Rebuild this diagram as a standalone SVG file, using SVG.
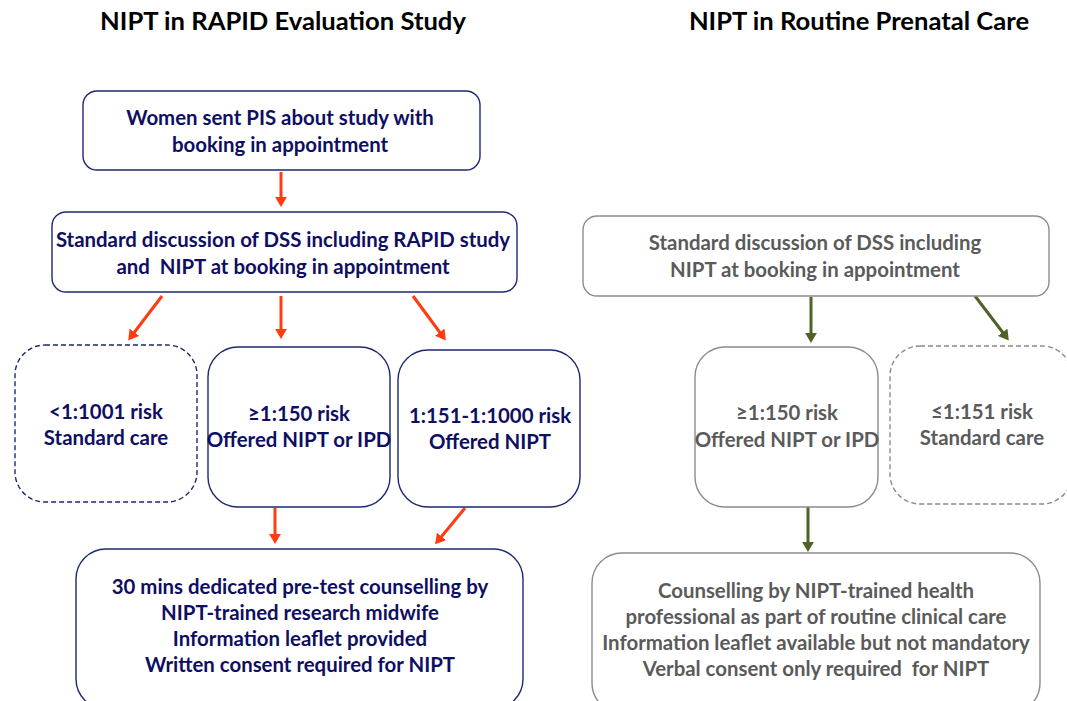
<svg xmlns="http://www.w3.org/2000/svg" width="1067" height="701" viewBox="0 0 1067 701">
<defs>
<style>
text{font-family:Lato,"Open Sans","Liberation Sans",sans-serif;font-weight:bold;text-anchor:middle;white-space:pre}
.title{font-size:25.6px;fill:#000}
.l{font-size:20.4px;fill:#0e0e62}
.r{font-size:20.4px;fill:#5a5a5a}
.bl{fill:#fff;stroke:#1d2870;stroke-width:1.4}
.bld{fill:#fff;stroke:#1d2870;stroke-width:1.4;stroke-dasharray:5 3}
.br{fill:#fff;stroke:#8c8c8c;stroke-width:1.4}
.brd{fill:#fff;stroke:#8c8c8c;stroke-width:1.4;stroke-dasharray:5 3}
.ao{stroke:#ff3b0f;stroke-width:3;fill:none;marker-end:url(#mo)}
.ag{stroke:#4f6228;stroke-width:3;fill:none;marker-end:url(#mg)}
</style>
<marker id="mo" markerWidth="4" markerHeight="4" refX="2.4" refY="2" orient="auto" markerUnits="strokeWidth"><path d="M0,0 L3.4,2 L0,4 Z" fill="#ff3b0f"/></marker>
<marker id="mg" markerWidth="4" markerHeight="4" refX="2.4" refY="2" orient="auto" markerUnits="strokeWidth"><path d="M0,0 L3.4,2 L0,4 Z" fill="#4f6228"/></marker>
</defs>
<rect width="1067" height="701" fill="#fff"/>
<g id="titles">
<text class="title" x="283" y="30">NIPT in RAPID Evaluation Study</text>
<text class="title" x="859" y="30">NIPT in Routine Prenatal Care</text>
</g>
<g id="connectors">
<line class="ao" x1="281" y1="172" x2="281" y2="204"/>
<line class="ao" x1="162" y1="296" x2="130" y2="338"/>
<line class="ao" x1="281" y1="296" x2="281" y2="336"/>
<line class="ao" x1="413" y1="296" x2="444" y2="338"/>
<line class="ao" x1="275" y1="508" x2="275" y2="541"/>
<line class="ao" x1="465" y1="508" x2="437" y2="542"/>
<line class="ag" x1="811" y1="297" x2="811" y2="340"/>
<line class="ag" x1="975" y1="296" x2="1007" y2="338"/>
<line class="ag" x1="808" y1="507" x2="808" y2="549"/>
</g>
<g id="n1"><rect class="bl" x="83" y="91" width="397" height="79" rx="14"/>
<text class="l" x="280" y="125">Women sent PIS about study with</text>
<text class="l" x="280" y="152">booking in appointment</text></g>
<g id="n2"><rect class="bl" x="52" y="212" width="465" height="80" rx="14"/>
<text class="l" x="283" y="247">Standard discussion of DSS including RAPID study</text>
<text class="l" x="283" y="274">and  NIPT at booking in appointment</text></g>
<g id="n3"><rect class="bld" x="15" y="345" width="182" height="157" rx="30"/>
<text class="l" x="106" y="419">&lt;1:1001 risk</text>
<text class="l" x="106" y="445">Standard care</text></g>
<g id="n4"><rect class="bl" x="208" y="347" width="182" height="160" rx="30"/>
<text class="l" x="299" y="421">≥1:150 risk</text>
<text class="l" x="299" y="447">Offered NIPT or IPD</text></g>
<g id="n5"><rect class="bl" x="398" y="350" width="182" height="157" rx="30"/>
<text class="l" x="490" y="423">1:151-1:1000 risk</text>
<text class="l" x="490" y="449">Offered NIPT</text></g>
<g id="n6"><rect class="bl" x="76" y="549" width="447" height="160" rx="30"/>
<text class="l" x="300" y="594">30 mins dedicated pre-test counselling by</text>
<text class="l" x="300" y="620">NIPT-trained research midwife</text>
<text class="l" x="300" y="646">Information leaflet provided</text>
<text class="l" x="300" y="672">Written consent required for NIPT</text></g>
<g id="n7"><rect class="br" x="583" y="216" width="466" height="80" rx="14"/>
<text class="r" x="815" y="250">Standard discussion of DSS including</text>
<text class="r" x="815" y="277">NIPT at booking in appointment</text></g>
<g id="n8"><rect class="br" x="695" y="347" width="183" height="160" rx="30"/>
<text class="r" x="787" y="420">≥1:150 risk</text>
<text class="r" x="787" y="447">Offered NIPT or IPD</text></g>
<g id="n9"><rect class="brd" x="890" y="346" width="182" height="158" rx="30"/>
<text class="r" x="982" y="419">≤1:151 risk</text>
<text class="r" x="982" y="445">Standard care</text></g>
<g id="n10"><rect class="br" x="592" y="553" width="448" height="160" rx="30"/>
<text class="r" x="816" y="598">Counselling by NIPT-trained health</text>
<text class="r" x="816" y="624">professional as part of routine clinical care</text>
<text class="r" x="816" y="650">Information leaflet available but not mandatory</text>
<text class="r" x="816" y="676">Verbal consent only required  for NIPT</text></g>
</svg>
